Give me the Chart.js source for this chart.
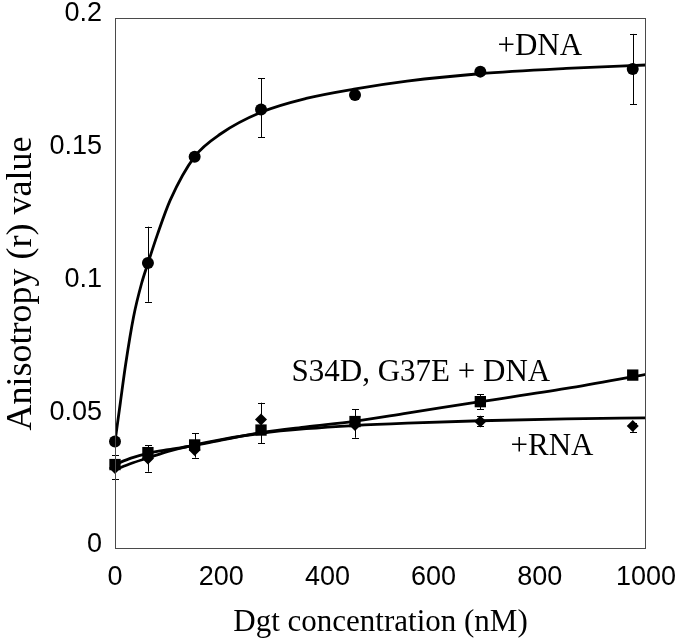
<!DOCTYPE html>
<html>
<head>
<meta charset="utf-8">
<script src="https://cdn.jsdelivr.net/npm/chart.js@4.4.0/dist/chart.umd.min.js"></script>
<style>
html,body{margin:0;padding:0;background:#fff;}
#wrap{width:680px;height:642px;}
</style>
</head>
<body>
<div id="wrap"><canvas id="c" width="680" height="642"></canvas></div>
<script>
// ---- Measured data (Dgt concentration, nM) ----
const concentrations = [0, 62, 150, 275, 452, 688, 975];

// +DNA (circles)
const dnaValues   = [0.0405, 0.1077, 0.1477, 0.1655, 0.1710, 0.1798, 0.1808];
const dnaErrLow   = [null, 0.0931, null, 0.1550, 0.1695, null, 0.1676];
const dnaErrHigh  = [null, 0.1214, null, 0.1774, 0.1725, null, 0.1940];

// S34D, G37E + DNA (squares)
const mutValues   = [0.0318, 0.0363, 0.0392, 0.0448, 0.0480, 0.0555, 0.0655];
const mutErrLow   = [null, null, null, null, null, 0.0527, null];
const mutErrHigh  = [null, null, null, null, null, 0.0583, null];

// +RNA (diamonds)
const rnaValues   = [0.0305, 0.0341, 0.0373, 0.0488, 0.0467, 0.0480, 0.0463];
const rnaErrLow   = [0.0262, 0.0291, 0.0344, 0.0398, 0.0419, 0.0463, 0.0442];
const rnaErrHigh  = [0.0354, 0.0390, 0.0436, 0.0551, 0.0526, 0.0500, 0.0476];

// Fitted curves
const dnaCurveX = [0, 10, 20, 35, 50, 62, 80, 104, 150, 200, 275, 360, 450, 550, 686, 850, 1000];
const dnaCurveY = [0.0404, 0.0550, 0.0695, 0.0875, 0.1000, 0.1076, 0.1185, 0.1314, 0.1478, 0.1565, 0.1645, 0.1697, 0.1732, 0.1762, 0.1790, 0.1810, 0.1823];

const mutCurveX = [0, 30, 62, 100, 150, 200, 275, 360, 450, 550, 688, 850, 1000];
const mutCurveY = [0.0318, 0.0342, 0.0360, 0.0374, 0.0390, 0.0410, 0.0438, 0.0460, 0.0481, 0.0512, 0.0555, 0.0605, 0.0658];

const rnaCurveX = [0, 30, 62, 100, 150, 200, 275, 360, 450, 550, 688, 850, 1000];
const rnaCurveY = [0.0298, 0.0322, 0.0343, 0.0368, 0.0392, 0.0412, 0.0436, 0.0453, 0.0465, 0.0474, 0.0483, 0.0490, 0.0494];

// Axis ticks
const xTickValues = [0, 200, 400, 600, 800, 1000];
const xTickLabels = ['0', '200', '400', '600', '800', '1000'];
const yTickValues = [0, 0.05, 0.1, 0.15, 0.2];
const yTickLabels = ['0', '0.05', '0.1', '0.15', '0.2'];

// Series labels
const seriesNames = ['+DNA', 'S34D, G37E + DNA', '+RNA'];

// ---- helpers ----
function pts(xs, ys) { return xs.map((x, i) => ({x: x, y: ys[i]})); }

const errorSets = [
  {lo: dnaErrLow, hi: dnaErrHigh},
  {lo: mutErrLow, hi: mutErrHigh},
  {lo: rnaErrLow, hi: rnaErrHigh}
];

const annotationPlacement = [
  {x: 800, y: 0.1890},
  {x: 576, y: 0.0663},
  {x: 823, y: 0.0384}
];

const errorBarPlugin = {
  id: 'errorBars',
  beforeDatasetsDraw(chart) {
    const ctx = chart.ctx;
    const xs = chart.scales.x, ys = chart.scales.y;
    ctx.save();
    ctx.strokeStyle = '#000';
    ctx.lineWidth = 1;
    errorSets.forEach(set => {
      concentrations.forEach((c, i) => {
        if (set.lo[i] == null || set.hi[i] == null) return;
        const px = Math.round(xs.getPixelForValue(c)) + 0.5;
        const y1 = ys.getPixelForValue(set.lo[i]);
        const y2 = ys.getPixelForValue(set.hi[i]);
        ctx.beginPath();
        ctx.moveTo(px, y1); ctx.lineTo(px, y2);
        ctx.moveTo(px - 3.5, Math.round(y1) + 0.5); ctx.lineTo(px + 3.5, Math.round(y1) + 0.5);
        ctx.moveTo(px - 3.5, Math.round(y2) + 0.5); ctx.lineTo(px + 3.5, Math.round(y2) + 0.5);
        ctx.stroke();
      });
    });
    ctx.restore();
  }
};

const frameAndTextPlugin = {
  id: 'frameText',
  afterDraw(chart) {
    const ctx = chart.ctx;
    const a = chart.chartArea;
    ctx.save();
    ctx.strokeStyle = '#4a4a4a';
    ctx.lineWidth = 1;
    ctx.strokeRect(Math.round(a.left) + 0.5, Math.round(a.top) + 0.5,
                   Math.round(a.right - a.left) - 1, Math.round(a.bottom - a.top) - 1);
    ctx.fillStyle = '#000';
    ctx.font = '31px "Liberation Serif", "Times New Roman", serif';
    ctx.textAlign = 'center';
    ctx.textBaseline = 'middle';
    seriesNames.forEach((name, i) => {
      const p = annotationPlacement[i];
      ctx.fillText(name, chart.scales.x.getPixelForValue(p.x), chart.scales.y.getPixelForValue(p.y));
    });
    ctx.restore();
  }
};

const curveStyle = {
  type: 'line', borderColor: '#000', borderWidth: 2.8, pointRadius: 0,
  cubicInterpolationMode: 'monotone', fill: false, order: 2
};
const pointStyleBase = {
  type: 'scatter', backgroundColor: '#000', borderColor: '#000', borderWidth: 0,
  showLine: false, clip: false, order: 0
};

new Chart(document.getElementById('c'), {
  data: {
    datasets: [
      Object.assign({}, pointStyleBase, {label: seriesNames[0], data: pts(concentrations, dnaValues), pointStyle: 'circle', pointRadius: 6}),
      Object.assign({}, pointStyleBase, {label: seriesNames[1], data: pts(concentrations, mutValues), pointStyle: 'rect', pointRadius: 8}),
      Object.assign({}, pointStyleBase, {label: seriesNames[2], data: pts(concentrations, rnaValues), pointStyle: 'rectRot', pointRadius: 6}),
      Object.assign({}, curveStyle, {label: seriesNames[0] + ' fit', data: pts(dnaCurveX, dnaCurveY)}),
      Object.assign({}, curveStyle, {label: seriesNames[1] + ' fit', data: pts(mutCurveX, mutCurveY)}),
      Object.assign({}, curveStyle, {label: seriesNames[2] + ' fit', data: pts(rnaCurveX, rnaCurveY)})
    ]
  },
  options: {
    responsive: false,
    animation: false,
    devicePixelRatio: 1,
    layout: {padding: {top: 18, right: 34, bottom: 0, left: 0}},
    plugins: {legend: {display: false}, tooltip: {enabled: false}},
    scales: {
      x: {
        type: 'linear', min: 0, max: 1000,
        afterBuildTicks(scale) { scale.ticks = xTickValues.map(v => ({value: v})); },
        afterFit(scale) { scale.height = 93; scale.paddingLeft = 0; scale.paddingRight = 0; },
        grid: {display: false, drawTicks: false},
        border: {display: false},
        ticks: {
          color: '#000', padding: 12,
          font: {family: '"Liberation Sans", Arial, sans-serif', size: 27},
          maxRotation: 0, autoSkip: false,
          callback: (v) => { const i = xTickValues.indexOf(v); return i >= 0 ? xTickLabels[i] : ''; }
        },
        title: {
          display: true, text: 'Dgt concentration (nM)', color: '#000',
          font: {family: '"Liberation Serif", "Times New Roman", serif', size: 31},
          padding: {top: 0, bottom: 1}
        }
      },
      y: {
        type: 'linear', min: 0, max: 0.2,
        afterBuildTicks(scale) { scale.ticks = yTickValues.map(v => ({value: v})); },
        afterFit(scale) { scale.width = 115; scale.paddingTop = 0; scale.paddingBottom = 0; },
        grid: {display: false, drawTicks: false},
        border: {display: false},
        ticks: {
          color: '#000', padding: 13, labelOffset: -4,
          font: {family: '"Liberation Sans", Arial, sans-serif', size: 27},
          autoSkip: false,
          callback: (v) => { const i = yTickValues.indexOf(v); return i >= 0 ? yTickLabels[i] : ''; }
        },
        title: {
          display: true, text: 'Anisotropy (r) value', color: '#000',
          font: {family: '"Liberation Serif", "Times New Roman", serif', size: 36},
          padding: {top: 0, bottom: 0}
        }
      }
    }
  },
  plugins: [errorBarPlugin, frameAndTextPlugin]
});
</script>
</body>
</html>
